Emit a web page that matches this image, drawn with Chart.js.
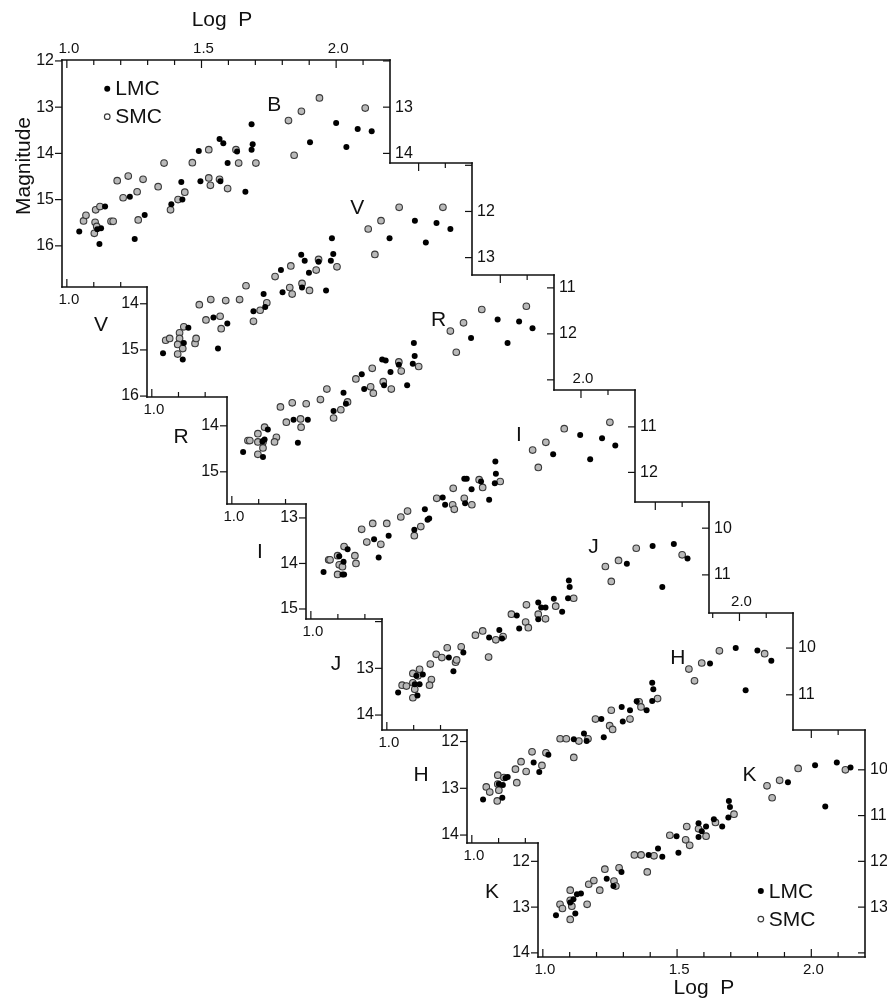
<!DOCTYPE html>
<html>
<head>
<meta charset="utf-8">
<script src="https://cdn.jsdelivr.net/npm/chart.js@4.4.1/dist/chart.umd.min.js"></script>
<style>
  html, body { margin: 0; padding: 0; background: #fff; }
  #wrap { position: relative; width: 887px; height: 1005px; }
  #wrap canvas { position: absolute; left: 0; top: 0; }
</style>
</head>
<body>
<div id="wrap"></div>
<script>
// Cepheid P-L relations, LMC vs SMC, one stepped panel per band.
// Each point is [log P, apparent magnitude].

const bands = ['B', 'V', 'R', 'I', 'J', 'H', 'K'];
const logPMin = 0.982, logPMax = 2.2;
const logPTicks = [1.0, 1.1, 1.2, 1.3, 1.4, 1.5, 1.6, 1.7, 1.8, 1.9, 2.0, 2.1, 2.2];

const lmcB = [[1.046,15.69],[1.121,15.96],[1.113,15.64],[1.127,15.62],[1.142,15.15],[1.234,14.94],[1.252,15.85],[1.289,15.33],[1.388,15.10],[1.425,14.62],[1.429,15.00],[1.490,13.95],[1.496,14.60],[1.567,13.69],[1.581,13.78],[1.570,14.60],[1.597,14.21],[1.632,13.96],[1.663,14.83],[1.686,13.37],[1.690,13.80],[1.686,13.92],[1.903,13.76],[2.000,13.34],[2.038,13.86],[2.080,13.47],[2.132,13.52]];
const smcB = [[1.062,15.46],[1.071,15.34],[1.107,15.22],[1.105,15.49],[1.102,15.73],[1.111,15.58],[1.123,15.15],[1.164,15.47],[1.172,15.47],[1.187,14.59],[1.209,14.96],[1.228,14.49],[1.261,14.83],[1.265,15.44],[1.283,14.56],[1.339,14.72],[1.361,14.21],[1.385,15.22],[1.413,15.00],[1.438,14.84],[1.466,14.20],[1.527,13.92],[1.527,14.53],[1.533,14.69],[1.597,14.76],[1.628,13.92],[1.638,14.21],[1.702,14.21],[1.823,13.29],[1.844,14.04],[1.871,13.09],[1.938,12.80],[2.108,13.02],[1.567,14.56]];

const lmcV = [[1.042,15.07],[1.116,15.21],[1.120,14.85],[1.137,14.52],[1.231,14.30],[1.283,14.43],[1.248,14.97],[1.381,14.16],[1.419,13.79],[1.425,14.07],[1.484,13.27],[1.490,13.75],[1.560,12.94],[1.573,13.07],[1.589,13.33],[1.625,13.09],[1.653,13.71],[1.563,13.65],[1.671,13.07],[1.675,12.58],[1.680,12.92],[1.891,12.58],[1.986,12.20],[2.027,12.67],[2.067,12.25],[2.119,12.38]];
const smcV = [[1.052,14.79],[1.067,14.75],[1.097,15.09],[1.104,14.63],[1.104,14.75],[1.097,14.88],[1.120,14.50],[1.116,14.97],[1.162,14.86],[1.166,14.75],[1.178,14.02],[1.203,14.35],[1.221,13.91],[1.256,14.27],[1.260,14.54],[1.277,13.93],[1.329,13.91],[1.353,13.61],[1.381,14.38],[1.406,14.14],[1.431,13.98],[1.462,13.41],[1.521,13.18],[1.517,13.65],[1.526,13.79],[1.563,13.56],[1.591,13.71],[1.616,13.27],[1.625,13.04],[1.694,13.20],[1.811,12.38],[1.836,12.93],[1.859,12.20],[1.927,11.91],[2.091,11.91]];

const lmcR = [[1.042,14.57],[1.116,14.68],[1.114,14.34],[1.122,14.30],[1.134,14.08],[1.246,14.37],[1.230,13.87],[1.283,13.87],[1.379,13.68],[1.416,13.28],[1.425,13.52],[1.484,12.88],[1.493,13.20],[1.560,12.56],[1.573,12.58],[1.567,13.12],[1.591,12.83],[1.622,12.67],[1.653,13.12],[1.678,12.20],[1.681,12.48],[1.674,12.65],[1.891,12.09],[1.990,11.69],[2.027,12.20],[2.070,11.73],[2.120,11.88]];
const smcR = [[1.060,14.32],[1.067,14.32],[1.097,14.17],[1.097,14.62],[1.116,14.35],[1.116,14.48],[1.097,14.35],[1.122,14.03],[1.166,14.25],[1.159,14.35],[1.181,13.59],[1.203,13.92],[1.225,13.50],[1.277,13.52],[1.256,13.85],[1.258,14.03],[1.330,13.43],[1.354,13.20],[1.379,13.83],[1.406,13.65],[1.431,13.48],[1.462,12.98],[1.517,13.15],[1.527,13.29],[1.523,12.75],[1.564,13.04],[1.594,13.20],[1.622,12.61],[1.631,12.81],[1.696,12.71],[1.814,11.94],[1.836,12.40],[1.863,11.76],[1.931,11.47],[2.097,11.40]];

const lmcI = [[1.047,14.19],[1.117,14.24],[1.123,14.24],[1.121,13.96],[1.105,13.84],[1.136,13.69],[1.234,13.47],[1.251,13.87],[1.288,13.39],[1.383,13.26],[1.422,12.81],[1.432,13.04],[1.438,13.01],[1.488,12.55],[1.497,12.71],[1.568,12.14],[1.577,12.14],[1.571,12.68],[1.595,12.37],[1.630,12.20],[1.660,12.60],[1.683,11.76],[1.685,12.03],[1.681,12.24],[1.897,11.60],[1.997,11.18],[2.034,11.71],[2.078,11.25],[2.127,11.41]];
const smcI = [[1.066,13.92],[1.071,13.92],[1.099,14.24],[1.105,14.03],[1.117,14.07],[1.099,13.83],[1.123,13.63],[1.163,13.83],[1.167,14.00],[1.188,13.25],[1.207,13.53],[1.229,13.12],[1.259,13.58],[1.281,13.12],[1.333,12.98],[1.358,12.85],[1.383,13.39],[1.407,13.19],[1.466,12.57],[1.527,12.35],[1.525,12.71],[1.531,12.81],[1.568,12.57],[1.596,12.71],[1.623,12.16],[1.636,12.33],[1.701,12.20],[1.821,11.51],[1.842,11.89],[1.870,11.34],[1.938,11.04],[2.107,10.90]];

const lmcJ = [[1.042,13.52],[1.114,13.58],[1.104,13.34],[1.122,13.34],[1.110,13.16],[1.134,13.13],[1.248,13.06],[1.231,12.77],[1.285,12.66],[1.381,12.34],[1.419,12.18],[1.429,12.36],[1.484,11.87],[1.493,12.15],[1.564,11.59],[1.575,11.70],[1.591,11.70],[1.564,11.95],[1.622,11.51],[1.653,11.79],[1.675,11.50],[1.678,11.12],[1.681,11.26],[1.894,10.76],[1.990,10.38],[2.026,11.26],[2.069,10.34],[2.120,10.65]];
const smcJ = [[1.057,13.36],[1.073,13.38],[1.097,13.11],[1.097,13.31],[1.104,13.45],[1.097,13.63],[1.122,13.02],[1.116,13.16],[1.162,12.91],[1.166,13.24],[1.159,13.36],[1.184,12.70],[1.205,12.77],[1.225,12.56],[1.256,12.87],[1.260,12.82],[1.277,12.54],[1.330,12.29],[1.357,12.20],[1.379,12.76],[1.406,12.39],[1.433,12.32],[1.464,11.84],[1.517,12.01],[1.527,12.13],[1.520,11.64],[1.564,11.84],[1.591,11.94],[1.629,11.67],[1.696,11.50],[1.814,10.82],[1.836,11.14],[1.863,10.69],[1.929,10.43],[2.100,10.57]];

const lmcH = [[1.042,13.24],[1.114,13.20],[1.101,12.91],[1.116,12.93],[1.126,12.78],[1.134,12.76],[1.231,12.45],[1.252,12.65],[1.286,12.28],[1.381,11.95],[1.419,11.83],[1.429,11.99],[1.493,11.91],[1.484,11.52],[1.560,11.26],[1.564,11.57],[1.591,11.33],[1.616,11.14],[1.653,11.33],[1.674,10.74],[1.678,10.88],[1.674,11.13],[1.890,10.33],[1.986,10.00],[2.023,10.90],[2.067,10.05],[2.119,10.27]];
const smcH = [[1.054,12.97],[1.067,13.08],[1.097,12.72],[1.097,12.91],[1.101,13.04],[1.095,13.27],[1.120,12.77],[1.163,12.59],[1.168,12.88],[1.184,12.43],[1.203,12.64],[1.225,12.22],[1.262,12.51],[1.277,12.24],[1.330,11.94],[1.353,11.94],[1.400,11.99],[1.434,11.94],[1.381,12.34],[1.462,11.52],[1.515,11.66],[1.526,11.74],[1.521,11.33],[1.591,11.52],[1.625,11.15],[1.632,11.26],[1.694,11.08],[1.811,10.45],[1.832,10.70],[1.859,10.32],[1.925,10.06],[2.094,10.12]];

const lmcK = [[1.049,13.18],[1.121,13.14],[1.102,12.90],[1.114,12.83],[1.127,12.72],[1.142,12.70],[1.238,12.38],[1.263,12.54],[1.293,12.23],[1.394,11.86],[1.429,11.72],[1.445,11.90],[1.505,11.81],[1.498,11.45],[1.580,11.17],[1.580,11.47],[1.592,11.34],[1.608,11.24],[1.637,11.08],[1.668,11.24],[1.691,11.04],[1.693,10.68],[1.697,10.81],[1.913,10.27],[2.014,9.90],[2.052,10.80],[2.095,9.84],[2.146,9.95]];
const smcK = [[1.064,12.94],[1.073,13.03],[1.102,12.63],[1.102,12.85],[1.108,12.98],[1.102,13.27],[1.165,12.94],[1.171,12.50],[1.190,12.42],[1.212,12.63],[1.231,12.17],[1.265,12.43],[1.272,12.54],[1.284,12.14],[1.341,11.86],[1.366,11.86],[1.389,12.23],[1.414,11.88],[1.473,11.43],[1.532,11.53],[1.547,11.65],[1.536,11.24],[1.580,11.29],[1.608,11.45],[1.643,11.15],[1.712,10.97],[1.835,10.35],[1.854,10.61],[1.882,10.23],[1.951,9.97],[2.127,10.00]];

// magnitude range shown in each panel (top, bottom)
const magB = [11.98, 16.89];
const magV = [10.95, 16.02];
const magR = [10.72, 15.70];
const magI = [10.19, 15.22];
const magJ = [9.44, 14.32];
const magH = [9.25, 14.17];
const magK = [9.13, 14.09];

// labelled ticks
const leftLabels = { B: [12,13,14,15,16], V: [14,15,16], R: [14,15], I: [13,14,15], J: [13,14], H: [12,13,14], K: [12,13,14] };
const rightLabels = { B: [13,14], V: [12,13], R: [11,12], I: [11,12], J: [10,11], H: [10,11], K: [10,11,12,13] };
const topLabels = { B: [1.0,1.5,2.0], I: [2.0], H: [2.0] };
const bottomLabels = { K: [1.0,1.5,2.0] };

const lmc = { B: lmcB, V: lmcV, R: lmcR, I: lmcI, J: lmcJ, H: lmcH, K: lmcK };
const smc = { B: smcB, V: smcV, R: smcR, I: smcI, J: smcJ, H: smcH, K: smcK };
const mags = { B: magB, V: magV, R: magR, I: magI, J: magJ, H: magH, K: magK };

// plot frame of each panel on the page: left, top, right, bottom
const frames = {
  B: [62, 60, 390, 287], V: [147, 163, 472, 397], R: [227, 275, 554, 504],
  I: [306, 390, 635, 619], J: [382, 502, 709, 730], H: [467, 613, 793, 843],
  K: [538, 730, 865, 957]
};

const ink = '#111';
const font = '"Liberation Sans", Arial, Helvetica, sans-serif';
const lmcStyle = { radius: 3, fill: '#000' };
const smcStyle = { radius: 3.3, fill: '#b9b9b9', edge: '#3a3a3a' };

function seg(ctx, x1, y1, x2, y2) {
  ctx.beginPath(); ctx.moveTo(x1, y1); ctx.lineTo(x2, y2); ctx.stroke();
}

function legendAt(ctx, x, y) {
  ctx.fillStyle = lmcStyle.fill;
  ctx.beginPath(); ctx.arc(x, y, lmcStyle.radius, 0, Math.PI * 2); ctx.fill();
  ctx.fillStyle = '#fff'; ctx.strokeStyle = smcStyle.edge; ctx.lineWidth = 1.2;
  ctx.beginPath(); ctx.arc(x, y + 28, 2.8, 0, Math.PI * 2); ctx.fill(); ctx.stroke();
  ctx.fillStyle = ink;
  ctx.font = '21px ' + font;
  ctx.textAlign = 'left'; ctx.textBaseline = 'middle';
  ctx.fillText('LMC', x + 8, y + 1);
  ctx.fillText('SMC', x + 8, y + 29);
}

// draws only the visible part of each frame so the panels form one staircase
const stairPlugin = {
  id: 'stair',
  afterDatasetsDraw(chart, args, opts) {
    const { ctx, chartArea: a } = chart;
    const xs = chart.scales.x, ys = chart.scales.y;
    const band = opts.band;
    const prev = opts.prev, next = opts.next;
    const topFrom = prev ? prev[2] : a.left;
    const leftFrom = prev ? prev[3] : a.top;
    const rightTo = next ? next[1] : a.bottom;
    const bottomTo = next ? next[0] : a.right;

    ctx.save();
    ctx.strokeStyle = ink;
    ctx.lineWidth = 1.6;
    ctx.lineCap = 'square';
    seg(ctx, topFrom, a.top, a.right, a.top);
    seg(ctx, a.left, leftFrom, a.left, a.bottom);
    seg(ctx, a.right, a.top, a.right, rightTo);
    seg(ctx, a.left, a.bottom, bottomTo, a.bottom);

    ctx.lineWidth = 1.2;
    ctx.lineCap = 'butt';
    logPTicks.forEach(v => {
      const px = xs.getPixelForValue(v);
      const len = Math.abs(v * 2 - Math.round(v * 2)) < 1e-6 ? 8 : 5;
      if (px > topFrom + 2 && px < a.right - 2) seg(ctx, px, a.top, px, a.top + len);
      if (px > a.left + 2 && px < bottomTo - 2) seg(ctx, px, a.bottom, px, a.bottom - len);
    });
    for (let m = Math.ceil(ys.min); m <= Math.floor(ys.max); m++) {
      const py = ys.getPixelForValue(m);
      if (py >= leftFrom - 1 && py <= a.bottom + 1) seg(ctx, a.left - 7, py, a.left, py);
      if (py >= a.top - 1 && py < rightTo - 2) seg(ctx, a.right - 7, py, a.right, py);
    }

    ctx.fillStyle = ink;
    ctx.font = '15px ' + font;
    ctx.textAlign = 'center';
    ctx.textBaseline = 'bottom';
    (topLabels[band] || []).forEach(v => ctx.fillText(v.toFixed(1), xs.getPixelForValue(v) + 2, a.top - 4));
    ctx.textBaseline = 'top';
    (bottomLabels[band] || [1.0]).forEach(v => ctx.fillText(v.toFixed(1), xs.getPixelForValue(v) + 2, a.bottom + 5));

    ctx.font = '16px ' + font;
    ctx.textBaseline = 'middle';
    ctx.textAlign = 'right';
    leftLabels[band].forEach(m => ctx.fillText(String(m), a.left - 8, ys.getPixelForValue(m)));
    ctx.textAlign = 'left';
    rightLabels[band].forEach(m => ctx.fillText(String(m), a.right + 5, ys.getPixelForValue(m)));

    // band letters: one inside the panel, one beside its left axis
    ctx.font = '21px ' + font;
    ctx.textAlign = 'center';
    ctx.fillText(band, xs.getPixelForValue(1.77), a.top + 45);
    if (prev) ctx.fillText(band, a.left - 46, a.top + 162);

    if (band === 'B') {
      ctx.font = '21px ' + font;
      ctx.fillText('Log  P', 222, 20);
      ctx.save();
      ctx.translate(24, 166);
      ctx.rotate(-Math.PI / 2);
      ctx.fillText('Magnitude', 0, 0);
      ctx.restore();
      legendAt(ctx, xs.getPixelForValue(1.15), ys.getPixelForValue(12.6));
    }
    if (band === 'K') {
      ctx.font = '21px ' + font;
      ctx.fillText('Log  P', xs.getPixelForValue(1.6), a.bottom + 31);
      legendAt(ctx, xs.getPixelForValue(1.812), ys.getPixelForValue(12.65));
    }
    ctx.restore();
  }
};

const toPoints = arr => arr.map(p => ({ x: p[0], y: p[1] }));
const wrap = document.getElementById('wrap');

bands.forEach((band, i) => {
  const canvas = document.createElement('canvas');
  canvas.width = 887;
  canvas.height = 1005;
  wrap.appendChild(canvas);
  const f = frames[band];
  new Chart(canvas, {
    type: 'scatter',
    data: {
      datasets: [
        { label: 'LMC', data: toPoints(lmc[band]), pointRadius: lmcStyle.radius,
          backgroundColor: lmcStyle.fill, borderWidth: 0 },
        { label: 'SMC', data: toPoints(smc[band]), pointRadius: smcStyle.radius,
          backgroundColor: smcStyle.fill, borderColor: smcStyle.edge, borderWidth: 1.1 }
      ]
    },
    options: {
      responsive: false,
      animation: false,
      events: [],
      layout: { padding: { left: f[0], top: f[1], right: 887 - f[2], bottom: 1005 - f[3] } },
      scales: {
        x: { type: 'linear', min: logPMin, max: logPMax, display: false },
        y: { type: 'linear', min: mags[band][0], max: mags[band][1], reverse: true, display: false }
      },
      plugins: {
        legend: { display: false },
        tooltip: { enabled: false },
        stair: { band: band, prev: i > 0 ? frames[bands[i - 1]] : null, next: i < bands.length - 1 ? frames[bands[i + 1]] : null }
      }
    },
    plugins: [stairPlugin]
  });
});
</script>
</body>
</html>
